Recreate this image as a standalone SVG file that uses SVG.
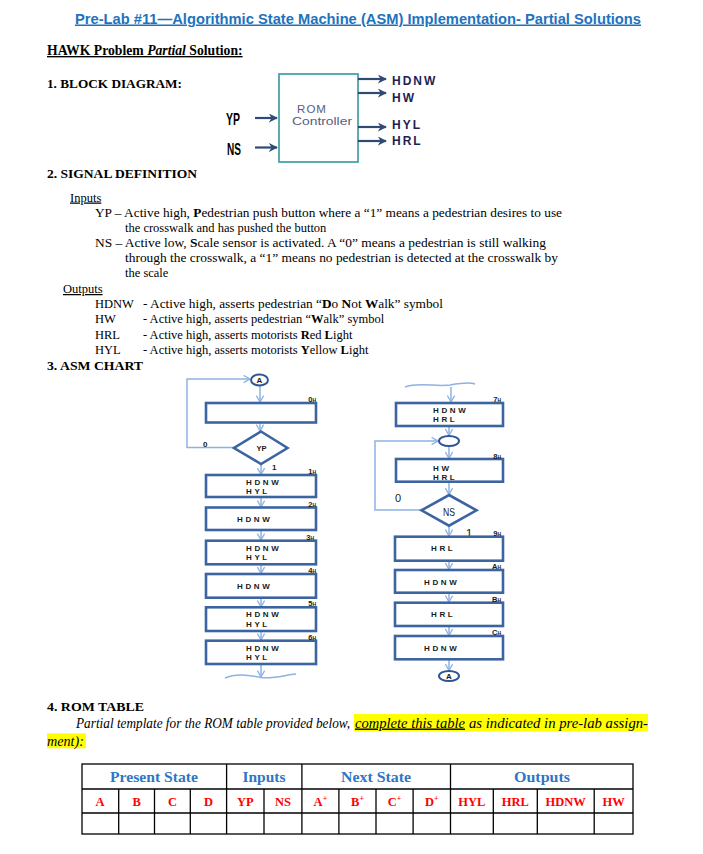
<svg xmlns="http://www.w3.org/2000/svg" width="703" height="854" viewBox="0 0 703 854">
<style>
.ser{font-family:"Liberation Serif","Times New Roman",serif;fill:#000}
.b{font-weight:bold}
.bx{fill:#fff;stroke:#3B64A0;stroke-width:2.6}
.lk{fill:none;stroke:#8DB3E2;stroke-width:1.5}
.at{font-family:"Liberation Sans",Arial,sans-serif;font-weight:bold;font-size:8px;letter-spacing:2.6px;fill:#1a1a1a}
.sl{font-family:"Liberation Sans",Arial,sans-serif;font-weight:bold;font-size:7.5px;fill:#1a1a1a;text-anchor:end}
.bo{stroke:#2F4B75;stroke-width:2.2;fill:none}
.ol{font-family:"Liberation Sans",Arial,sans-serif;font-weight:bold;font-size:12px;fill:#1F1F4F;letter-spacing:2px}
.tb{fill:none;stroke:#000;stroke-width:1.3}
.hd{font-family:"Liberation Serif","Times New Roman",serif;font-weight:bold;font-size:15px;fill:#2E75C6;text-anchor:middle}
.rd{font-family:"Liberation Serif","Times New Roman",serif;font-weight:bold;font-size:12.5px;fill:#FF0000;text-anchor:middle}
</style>
<defs>
<marker id="fa" viewBox="0 0 10 10" refX="9" refY="5" markerWidth="9" markerHeight="9" markerUnits="userSpaceOnUse" orient="auto">
<path d="M0,0 L10,5 L0,10 L3,5 z" fill="#2F4B75"/>
</marker>
<marker id="cv" viewBox="0 0 10 10" refX="9" refY="5" markerWidth="8" markerHeight="9" markerUnits="userSpaceOnUse" orient="auto">
<path d="M1,0.5 L9,5 L1,9.5" fill="none" stroke="#8DB3E2" stroke-width="1.6"/>
</marker>
</defs>
<rect width="703" height="854" fill="#fff"/>

<!-- Title -->
<text x="75" y="23.5" font-family="Liberation Sans, Arial, sans-serif" font-weight="bold" font-size="15" fill="#1E73BE" text-decoration="underline" textLength="566" lengthAdjust="spacingAndGlyphs">Pre-Lab #11—Algorithmic State Machine (ASM) Implementation- Partial Solutions</text>

<text class="ser b" x="47" y="55" font-size="13.7" text-decoration="underline">HAWK Problem <tspan font-style="italic">Partial</tspan> Solution:</text>
<text class="ser b" x="47" y="87.5" font-size="13.5" textLength="135" lengthAdjust="spacingAndGlyphs">1. BLOCK DIAGRAM:</text>

<!-- Block diagram -->
<g id="rom-controller">
<rect x="279" y="74" width="79" height="88" fill="#fff" stroke="#4AA3A8" stroke-width="1.8"/>
<text x="312" y="113" font-family="Liberation Sans, Arial, sans-serif" font-size="11.5" fill="#5B5B80" text-anchor="middle" letter-spacing="1">ROM</text>
<text x="292" y="125" font-family="Liberation Sans, Arial, sans-serif" font-size="11.5" fill="#5B5B80" textLength="60" lengthAdjust="spacingAndGlyphs">Controller</text>
</g>
<g id="block-io">
<text x="233" y="124.5" font-family="Liberation Sans, Arial, sans-serif" font-weight="bold" font-size="16.5" text-anchor="middle" textLength="14" lengthAdjust="spacingAndGlyphs">YP</text>
<text x="234" y="155" font-family="Liberation Sans, Arial, sans-serif" font-weight="bold" font-size="16.5" text-anchor="middle" textLength="14" lengthAdjust="spacingAndGlyphs">NS</text>
<text class="ol" x="392" y="85">HDNW</text>
<text class="ol" x="392" y="102">HW</text>
<text class="ol" x="392" y="128.5">HYL</text>
<text class="ol" x="392" y="145">HRL</text>
</g>
<g id="block-connectors">
<line class="bo" x1="255" y1="118" x2="277" y2="118" marker-end="url(#fa)"/>
<line class="bo" x1="255" y1="147.5" x2="277" y2="147.5" marker-end="url(#fa)"/>
<line class="bo" x1="358" y1="79" x2="386" y2="79" marker-end="url(#fa)"/>
<line class="bo" x1="358" y1="93" x2="386" y2="93" marker-end="url(#fa)"/>
<line class="bo" x1="358" y1="127" x2="386" y2="127" marker-end="url(#fa)"/>
<line class="bo" x1="358" y1="141" x2="386" y2="141" marker-end="url(#fa)"/>
</g>

<!-- Signal definition -->
<g class="ser" font-size="12.5">
<text class="b" x="47" y="177.5" font-size="13.5" textLength="150" lengthAdjust="spacingAndGlyphs">2.  SIGNAL DEFINITION</text>
<text x="70" y="201.5" text-decoration="underline">Inputs</text>
<text x="95" y="217" textLength="467" lengthAdjust="spacingAndGlyphs">YP – Active high, <tspan font-weight="bold">P</tspan>edestrian push button where a “1” means a pedestrian desires to use</text>
<text x="125" y="232">the crosswalk and has pushed the button</text>
<text x="95" y="247" textLength="451" lengthAdjust="spacingAndGlyphs">NS – Active low, <tspan font-weight="bold">S</tspan>cale sensor is activated. A “0” means a pedestrian is still walking</text>
<text x="125" y="262" textLength="433" lengthAdjust="spacingAndGlyphs">through the crosswalk, a “1” means no pedestrian is detected  at the crosswalk by</text>
<text x="125" y="277">the scale</text>
<text x="63" y="293" text-decoration="underline">Outputs</text>
<text x="95" y="308">HDNW</text>
<text x="143" y="308" textLength="300" lengthAdjust="spacingAndGlyphs">- Active high, asserts pedestrian “<tspan font-weight="bold">D</tspan>o <tspan font-weight="bold">N</tspan>ot <tspan font-weight="bold">W</tspan>alk” symbol</text>
<text x="95" y="323">HW</text>
<text x="143" y="323">- Active high, asserts pedestrian “<tspan font-weight="bold">W</tspan>alk” symbol</text>
<text x="95" y="339">HRL</text>
<text x="143" y="339">- Active high, asserts motorists <tspan font-weight="bold">R</tspan>ed <tspan font-weight="bold">L</tspan>ight</text>
<text x="95" y="354">HYL</text>
<text x="143" y="354">- Active high, asserts motorists <tspan font-weight="bold">Y</tspan>ellow <tspan font-weight="bold">L</tspan>ight</text>
<text class="b" x="47" y="369.5" font-size="13.5" textLength="96" lengthAdjust="spacingAndGlyphs">3.  ASM CHART</text>
</g>

<!-- ASM connectors -->
<g id="asm-connectors">
<polyline class="lk" points="234,447.5 187,447.5 187,379 250,379" marker-end="url(#cv)"/>
<line class="lk" x1="260" y1="386" x2="260" y2="402" marker-end="url(#cv)"/>
<line class="lk" x1="260" y1="422" x2="260" y2="431" marker-end="url(#cv)"/>
<line class="lk" x1="261" y1="464" x2="261" y2="474.5" marker-end="url(#cv)"/>
<line class="lk" x1="261" y1="497" x2="261" y2="507" marker-end="url(#cv)"/>
<line class="lk" x1="261" y1="530" x2="261" y2="540" marker-end="url(#cv)"/>
<line class="lk" x1="261" y1="564.5" x2="261" y2="573.5" marker-end="url(#cv)"/>
<line class="lk" x1="261" y1="598" x2="261" y2="607" marker-end="url(#cv)"/>
<line class="lk" x1="261" y1="631" x2="261" y2="640" marker-end="url(#cv)"/>
<line class="lk" x1="261" y1="664" x2="261" y2="677" marker-end="url(#cv)"/>
<path class="lk" d="M225,678 C236,673 248,675 261,677.5 C274,679 285,675 296,674"/>

<path class="lk" d="M405,387 C418,382 436,387 450,385 C462,383 470,382 475,384"/>
<line class="lk" x1="451" y1="387" x2="451" y2="402" marker-end="url(#cv)"/>
<line class="lk" x1="449" y1="426" x2="449" y2="435.5" marker-end="url(#cv)"/>
<polyline class="lk" points="421.5,510 375,510 375,441 438,441" marker-end="url(#cv)"/>
<line class="lk" x1="449" y1="446" x2="449" y2="458.5" marker-end="url(#cv)"/>
<line class="lk" x1="449" y1="482" x2="449" y2="494.5" marker-end="url(#cv)"/>
<line class="lk" x1="449" y1="526" x2="449" y2="536" marker-end="url(#cv)"/>
<line class="lk" x1="449" y1="561" x2="449" y2="569.5" marker-end="url(#cv)"/>
<line class="lk" x1="449" y1="593" x2="449" y2="602" marker-end="url(#cv)"/>
<line class="lk" x1="449" y1="626" x2="449" y2="635.5" marker-end="url(#cv)"/>
<line class="lk" x1="449" y1="659.5" x2="449" y2="670.5" marker-end="url(#cv)"/>
</g>

<!-- ASM left column -->
<g id="conn-A-top">
<ellipse cx="259.5" cy="380" rx="8.5" ry="5.5" fill="#fff" stroke="#2E5597" stroke-width="2"/>
<text x="259.5" y="383" font-family="Liberation Sans, Arial, sans-serif" font-weight="bold" font-size="8" text-anchor="middle" fill="#1a1a1a">A</text>
</g>
<g id="state-0">
<rect class="bx" x="206" y="403" width="110" height="19.5"/>
<text class="sl" x="316" y="401.5">0<tspan font-size="5">H</tspan></text>
</g>
<g id="dec-YP">
<polygon class="bx" points="261,431.5 287.5,448 261,464 234,448"/>
<text x="261.5" y="451" font-family="Liberation Sans, Arial, sans-serif" font-weight="bold" font-size="7.5" text-anchor="middle" fill="#1a1a1a">YP</text>
<text x="203" y="446.5" font-family="Liberation Sans, Arial, sans-serif" font-weight="bold" font-size="8" fill="#1a1a1a">0</text>
<text x="272" y="470" font-family="Liberation Sans, Arial, sans-serif" font-weight="bold" font-size="8" fill="#1a1a1a">1</text>
</g>
<g id="state-1">
<rect class="bx" x="206" y="475" width="110" height="22"/>
<text class="sl" x="316" y="474">1<tspan font-size="5">H</tspan></text>
<text class="at" x="246" y="484.5">HDNW</text>
<text class="at" x="246" y="493.5">HYL</text>
</g>
<g id="state-2">
<rect class="bx" x="206" y="507.5" width="110" height="22.5"/>
<text class="sl" x="316" y="506.5">2<tspan font-size="5">H</tspan></text>
<text class="at" x="237" y="522.3">HDNW</text>
</g>
<g id="state-3">
<rect class="bx" x="206" y="540.7" width="110" height="23.6"/>
<text class="sl" x="314" y="539.5">3<tspan font-size="5">H</tspan></text>
<text class="at" x="246" y="551.3">HDNW</text>
<text class="at" x="246" y="560.3">HYL</text>
</g>
<g id="state-4">
<rect class="bx" x="206" y="574" width="110" height="23.7"/>
<text class="sl" x="316" y="573">4<tspan font-size="5">H</tspan></text>
<text class="at" x="237" y="588.7">HDNW</text>
</g>
<g id="state-5">
<rect class="bx" x="206" y="607.3" width="110" height="23.7"/>
<text class="sl" x="316" y="606.3">5<tspan font-size="5">H</tspan></text>
<text class="at" x="246" y="617.3">HDNW</text>
<text class="at" x="246" y="627">HYL</text>
</g>
<g id="state-6">
<rect class="bx" x="206" y="640.7" width="110" height="23.3"/>
<text class="sl" x="316" y="639.7">6<tspan font-size="5">H</tspan></text>
<text class="at" x="246" y="650.7">HDNW</text>
<text class="at" x="246" y="659.7">HYL</text>
</g>

<!-- ASM right column -->
<g id="state-7">
<rect class="bx" x="396" y="403" width="107" height="23"/>
<text class="sl" x="501" y="402">7<tspan font-size="5">H</tspan></text>
<text class="at" x="433" y="413">HDNW</text>
<text class="at" x="433" y="422">HRL</text>
</g>
<g id="junction">
<ellipse cx="449" cy="441" rx="10" ry="5" fill="#fff" stroke="#2E5597" stroke-width="2"/>
</g>
<g id="state-8">
<rect class="bx" x="396" y="459" width="107" height="22.7"/>
<text class="sl" x="501" y="458.5">8<tspan font-size="5">H</tspan></text>
<text class="at" x="433" y="470.7">HW</text>
<text class="at" x="433" y="479.7">HRL</text>
</g>
<g id="dec-NS">
<polygon class="bx" points="449,495 476.5,510.3 449,525.7 421.5,510.3"/>
<text x="449" y="515.5" font-family="Liberation Sans, Arial, sans-serif" font-size="11" text-anchor="middle" fill="#1a1a1a" textLength="12" lengthAdjust="spacingAndGlyphs">NS</text>
<text x="398" y="501.5" font-family="Liberation Sans, Arial, sans-serif" font-size="11" text-anchor="middle" fill="#1a1a1a">0</text>
<text x="469" y="537.5" font-family="Liberation Sans, Arial, sans-serif" font-size="12" text-anchor="middle" fill="#1a1a1a">1</text>
</g>
<g id="state-9">
<rect class="bx" x="395" y="536.7" width="108" height="24"/>
<text class="sl" x="501" y="536">9<tspan font-size="5">H</tspan></text>
<text class="at" x="431" y="550.7">HRL</text>
</g>
<g id="state-A">
<rect class="bx" x="395" y="570" width="108" height="22.7"/>
<text class="sl" x="501" y="569">A<tspan font-size="5">H</tspan></text>
<text class="at" x="424" y="584.7">HDNW</text>
</g>
<g id="state-B">
<rect class="bx" x="395" y="602.7" width="108" height="23.3"/>
<text class="sl" x="501" y="602">B<tspan font-size="5">H</tspan></text>
<text class="at" x="431" y="617">HRL</text>
</g>
<g id="state-C">
<rect class="bx" x="395" y="636" width="108" height="23.3"/>
<text class="sl" x="501" y="635.3">C<tspan font-size="5">H</tspan></text>
<text class="at" x="424" y="650.7">HDNW</text>
</g>
<g id="conn-A-bottom">
<ellipse cx="449" cy="676" rx="10" ry="5" fill="#fff" stroke="#2E5597" stroke-width="2"/>
<text x="449" y="679" font-family="Liberation Sans, Arial, sans-serif" font-weight="bold" font-size="8" text-anchor="middle" fill="#1a1a1a">A</text>
</g>

<!-- ROM table section -->
<text class="ser b" x="47" y="711" font-size="13.5" textLength="97" lengthAdjust="spacingAndGlyphs">4.  ROM TABLE</text>
<rect x="354" y="714" width="294" height="17.5" fill="#FFFF00"/>
<rect x="47" y="733.3" width="39" height="15" fill="#FFFF00"/>
<text class="ser" x="76" y="727.5" font-size="14" font-style="italic" textLength="274" lengthAdjust="spacingAndGlyphs">Partial template for the ROM table provided below,</text>
<text class="ser" x="355" y="727.5" font-size="14" font-style="italic" text-decoration="underline" textLength="110" lengthAdjust="spacingAndGlyphs">complete this table</text>
<text class="ser" x="469" y="727.5" font-size="14" font-style="italic" textLength="179" lengthAdjust="spacingAndGlyphs">as indicated in pre-lab assign-</text>
<text class="ser" x="47" y="745.5" font-size="14" font-style="italic" textLength="37" lengthAdjust="spacingAndGlyphs">ment):</text>

<g id="rom-table">
<rect class="tb" x="82" y="764" width="551" height="70"/>
<line class="tb" x1="82" y1="789" x2="633" y2="789"/>
<line class="tb" x1="82" y1="813" x2="633" y2="813"/>
<line class="tb" x1="226.6" y1="764" x2="226.6" y2="834"/>
<line class="tb" x1="301.9" y1="764" x2="301.9" y2="834"/>
<line class="tb" x1="450.5" y1="764" x2="450.5" y2="834"/>
<line class="tb" x1="118.7" y1="789" x2="118.7" y2="834"/>
<line class="tb" x1="154.5" y1="789" x2="154.5" y2="834"/>
<line class="tb" x1="190.3" y1="789" x2="190.3" y2="834"/>
<line class="tb" x1="264" y1="789" x2="264" y2="834"/>
<line class="tb" x1="338.9" y1="789" x2="338.9" y2="834"/>
<line class="tb" x1="376" y1="789" x2="376" y2="834"/>
<line class="tb" x1="413.1" y1="789" x2="413.1" y2="834"/>
<line class="tb" x1="493.3" y1="789" x2="493.3" y2="834"/>
<line class="tb" x1="537.3" y1="789" x2="537.3" y2="834"/>
<line class="tb" x1="594.2" y1="789" x2="594.2" y2="834"/>
<text class="hd" x="154" y="781.5" textLength="88" lengthAdjust="spacingAndGlyphs">Present State</text>
<text class="hd" x="264" y="781.5" textLength="43" lengthAdjust="spacingAndGlyphs">Inputs</text>
<text class="hd" x="376" y="781.5" textLength="70" lengthAdjust="spacingAndGlyphs">Next State</text>
<text class="hd" x="542" y="781.5" textLength="56" lengthAdjust="spacingAndGlyphs">Outputs</text>
<text class="rd" x="100" y="805.5">A</text>
<text class="rd" x="136.6" y="805.5">B</text>
<text class="rd" x="172.4" y="805.5">C</text>
<text class="rd" x="208.5" y="805.5">D</text>
<text class="rd" x="245.3" y="805.5">YP</text>
<text class="rd" x="283" y="805.5">NS</text>
<text class="rd" x="320.4" y="805.5">A<tspan font-size="8" dy="-5">+</tspan></text>
<text class="rd" x="357.5" y="805.5">B<tspan font-size="8" dy="-5">+</tspan></text>
<text class="rd" x="394.5" y="805.5">C<tspan font-size="8" dy="-5">+</tspan></text>
<text class="rd" x="431.8" y="805.5">D<tspan font-size="8" dy="-5">+</tspan></text>
<text class="rd" x="471.9" y="805.5">HYL</text>
<text class="rd" x="515.3" y="805.5">HRL</text>
<text class="rd" x="565.7" y="805.5">HDNW</text>
<text class="rd" x="613.6" y="805.5">HW</text>
</g>
</svg>
